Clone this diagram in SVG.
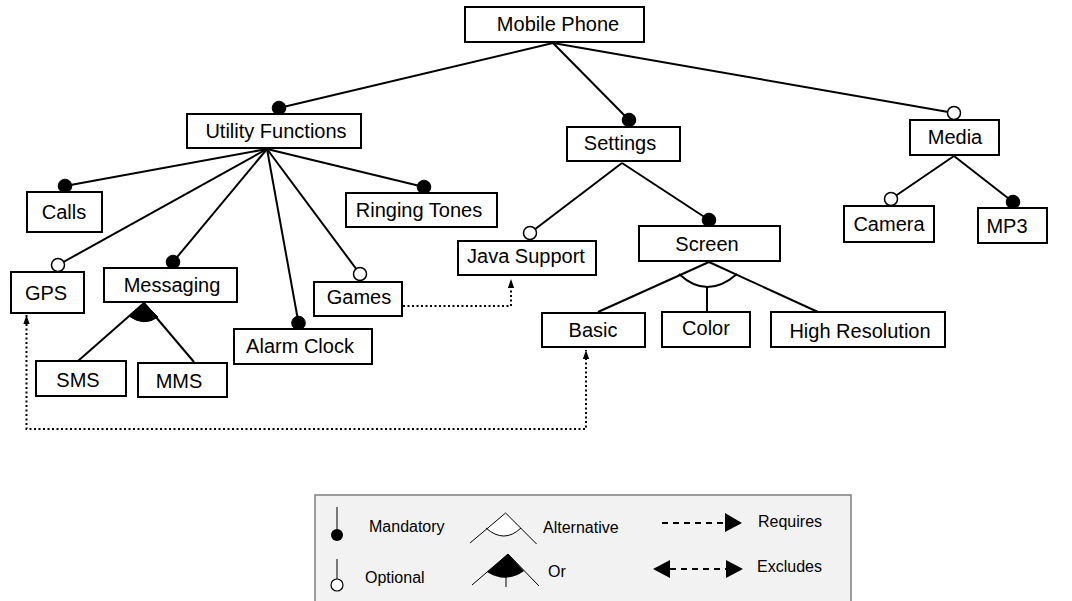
<svg xmlns="http://www.w3.org/2000/svg" width="1072" height="601" viewBox="0 0 1072 601">
<style>
  .box { fill: #fff; stroke: #000; stroke-width: 2; }
  .lbl { font-family: "Liberation Sans", Arial, sans-serif; font-size: 20px; fill: #000; text-anchor: middle; }
  .lg { font-family: "Liberation Sans", Arial, sans-serif; font-size: 16px; fill: #000; }
  .ln { stroke: #000; stroke-width: 2; fill: none; }
  .mand { fill: #000; stroke: #000; stroke-width: 1; }
  .opt { fill: #fff; stroke: #000; stroke-width: 1.5; }
  .dot { stroke: #000; stroke-width: 2; fill: none; stroke-dasharray: 2 2.5; }
  .dash { stroke: #000; stroke-width: 1.8; fill: none; stroke-dasharray: 6 5; }
</style>
<defs>
  <marker id="arr" viewBox="0 0 10 10" refX="10" refY="5" markerWidth="9" markerHeight="9" markerUnits="userSpaceOnUse" orient="auto-start-reverse">
    <path d="M0,1.5 L10,5 L0,8.5 z" fill="#000"/>
  </marker>
</defs>
<rect width="1072" height="601" fill="#fff"/>

<g id="connectors">
  <line class="ln" x1="553" y1="43" x2="279" y2="108"/>
  <line class="ln" x1="553" y1="43" x2="629" y2="120"/>
  <line class="ln" x1="553" y1="43" x2="954" y2="113"/>
  <line class="ln" x1="267" y1="149" x2="65" y2="186"/>
  <line class="ln" x1="267" y1="149" x2="58" y2="265"/>
  <line class="ln" x1="267" y1="149" x2="173" y2="262"/>
  <line class="ln" x1="267" y1="149" x2="298.5" y2="323"/>
  <line class="ln" x1="267" y1="149" x2="360" y2="274"/>
  <line class="ln" x1="267" y1="149" x2="424" y2="187"/>
  <line class="ln" x1="144" y1="303" x2="78" y2="361"/>
  <line class="ln" x1="144" y1="303" x2="194" y2="362"/>
  <path d="M144,303 L129,316 Q144,327 158,317 Z" fill="#000" stroke="#000" stroke-width="1"/>
  <line class="ln" x1="622" y1="163" x2="530" y2="233"/>
  <line class="ln" x1="622" y1="163" x2="709" y2="220"/>
  <line class="ln" x1="709" y1="262" x2="598" y2="312"/>
  <line class="ln" x1="709" y1="262" x2="818" y2="312"/>
  <path class="ln" d="M679,274 Q707,300 737,274"/>
  <line class="ln" x1="707" y1="287" x2="707" y2="312"/>
  <line class="ln" x1="954" y1="156" x2="891" y2="199"/>
  <line class="ln" x1="954" y1="156" x2="1013" y2="202"/>
  <polyline class="dot" points="403,306 511,306 511,279" marker-end="url(#arr)"/>
  <polyline class="dot" points="26.5,315 26.5,429 586,429 586,350" marker-start="url(#arr)" marker-end="url(#arr)"/>
  <circle class="mand" cx="279" cy="108" r="6.8"/>
  <circle class="mand" cx="629" cy="120" r="6.8"/>
  <circle class="opt" cx="954" cy="113" r="6.5"/>
  <circle class="mand" cx="65" cy="186" r="6.8"/>
  <circle class="opt" cx="58" cy="265" r="6.5"/>
  <circle class="mand" cx="173" cy="262" r="6.8"/>
  <circle class="mand" cx="298.5" cy="323" r="6.8"/>
  <circle class="opt" cx="360" cy="274" r="6.5"/>
  <circle class="mand" cx="424" cy="187" r="6.8"/>
  <circle class="opt" cx="530" cy="233" r="6.5"/>
  <circle class="mand" cx="709" cy="220" r="6.8"/>
  <circle class="opt" cx="891" cy="199" r="6.5"/>
  <circle class="mand" cx="1013" cy="202" r="6.8"/>
</g>

<g id="n-mobile"><rect class="box" x="465" y="7" width="179" height="35"/><text class="lbl" x="558" y="31">Mobile Phone</text></g>
<g id="n-utility"><rect class="box" x="187" y="114" width="174" height="34"/><text class="lbl" x="276" y="138">Utility Functions</text></g>
<g id="n-settings"><rect class="box" x="567" y="127" width="113" height="34"/><text class="lbl" x="620" y="150">Settings</text></g>
<g id="n-media"><rect class="box" x="910" y="120" width="89" height="35"/><text class="lbl" x="955" y="144">Media</text></g>
<g id="n-calls"><rect class="box" x="27" y="192" width="75" height="40"/><text class="lbl" x="64" y="219">Calls</text></g>
<g id="n-ringing"><rect class="box" x="346" y="193" width="151" height="34"/><text class="lbl" x="419" y="217">Ringing Tones</text></g>
<g id="n-gps"><rect class="box" x="11" y="272" width="73" height="41"/><text class="lbl" x="46" y="300">GPS</text></g>
<g id="n-messaging"><rect class="box" x="104" y="268" width="133" height="34"/><text class="lbl" x="172" y="292">Messaging</text></g>
<g id="n-sms"><rect class="box" x="36" y="361" width="90" height="35"/><text class="lbl" x="78" y="387">SMS</text></g>
<g id="n-mms"><rect class="box" x="138" y="363" width="89" height="34"/><text class="lbl" x="179" y="388">MMS</text></g>
<g id="n-alarm"><rect class="box" x="234" y="329" width="138" height="35"/><text class="lbl" x="300" y="353">Alarm Clock</text></g>
<g id="n-games"><rect class="box" x="314" y="282" width="88" height="34"/><text class="lbl" x="359" y="304">Games</text></g>
<g id="n-java"><rect class="box" x="458" y="241" width="138" height="34"/><text class="lbl" x="526" y="263">Java Support</text></g>
<g id="n-screen"><rect class="box" x="639" y="226" width="141" height="35"/><text class="lbl" x="707" y="251">Screen</text></g>
<g id="n-basic"><rect class="box" x="542" y="313" width="103" height="34"/><text class="lbl" x="593" y="337">Basic</text></g>
<g id="n-color"><rect class="box" x="662" y="312" width="88" height="35"/><text class="lbl" x="706" y="335">Color</text></g>
<g id="n-highres"><rect class="box" x="771" y="312" width="174" height="35"/><text class="lbl" x="860" y="338">High Resolution</text></g>
<g id="n-camera"><rect class="box" x="844" y="206" width="90" height="36"/><text class="lbl" x="889" y="231">Camera</text></g>
<g id="n-mp3"><rect class="box" x="978" y="208" width="69" height="35"/><text class="lbl" x="1007" y="233">MP3</text></g>

<g id="legend">
  <rect x="315" y="495" width="536" height="120" fill="#f2f2f2" stroke="#7f7f7f" stroke-width="1.5"/>
  <line x1="337" y1="507" x2="337" y2="530" stroke="#000" stroke-width="1"/>
  <circle cx="337" cy="535" r="6" fill="#000"/>
  <text class="lg" x="369" y="532">Mandatory</text>
  <line x1="337" y1="559" x2="337" y2="579" stroke="#000" stroke-width="1"/>
  <circle cx="337" cy="585" r="6" fill="#fff" stroke="#000" stroke-width="1.2"/>
  <text class="lg" x="365" y="583">Optional</text>
  <path d="M505.6,513 L486,528 Q504,544 521,528 Z" fill="#fff"/>
  <polyline points="470,543 505.6,513 536.6,544" fill="none" stroke="#000" stroke-width="1"/>
  <path d="M486,528 Q504,544 521,528" fill="none" stroke="#000" stroke-width="1"/>
  <text class="lg" x="543" y="533">Alternative</text>
  <path d="M508,554 L487,572 Q506,584 524,571 Z" fill="#000"/>
  <polyline points="472,585 508,554 539,586" fill="none" stroke="#000" stroke-width="1"/>
  <line x1="506" y1="577" x2="506" y2="587" stroke="#000" stroke-width="1"/>
  <text class="lg" x="548" y="577">Or</text>
  <line class="dash" x1="662" y1="523" x2="725" y2="523"/>
  <path d="M725,513 L742,523 L725,532 z" fill="#000"/>
  <text class="lg" x="758" y="527">Requires</text>
  <line class="dash" x1="670" y1="569" x2="726" y2="569"/>
  <path d="M670,560 L653,569 L670,578 z" fill="#000"/>
  <path d="M726,560 L743,569 L726,578 z" fill="#000"/>
  <text class="lg" x="757" y="572">Excludes</text>
</g>
</svg>
